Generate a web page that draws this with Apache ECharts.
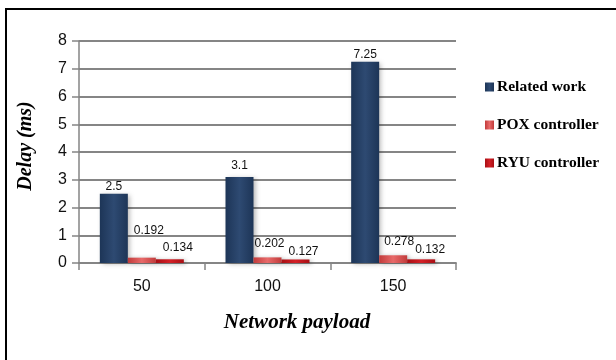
<!DOCTYPE html>
<html><head><meta charset="utf-8">
<script src="https://cdn.jsdelivr.net/npm/echarts@6/dist/echarts.min.js"></script>
<style>html,body{margin:0;padding:0;background:#fff}#c{width:616px;height:360px}</style>
</head><body><div id="c"></div>
<script>
const categories = ['50', '100', '150'];
const relatedWork = [2.5, 3.1, 7.25];
const poxController = [0.192, 0.202, 0.278];
const ryuController = [0.134, 0.127, 0.132];
const seriesNames = ['Related work', 'POX controller', 'RYU controller'];
const yTicks = [0, 1, 2, 3, 4, 5, 6, 7, 8];
const xTitle = 'Network payload';
const yTitle = 'Delay (ms)';

const poxOffsets = [[7, -20], [2, -7], [6, -7]];
const ryuOffsets = [[8, -5], [8, -1], [9, -3]];
const relOffsets = [[0, 0], [0, -4], [0, 0]];

function grad(c1, c2, c3) {
  return new echarts.graphic.LinearGradient(0, 0, 1, 0, [
    {offset: 0, color: c1}, {offset: 0.5, color: c2}, {offset: 1, color: c3}]);
}
const lblFont = {fontFamily: 'Liberation Sans', fontSize: 12, color: '#111'};
function mk(vals, offs) {
  return vals.map((v, i) => ({value: v, label: {offset: offs[i]}}));
}
const titleFont = {fontFamily: 'Liberation Serif', fontWeight: 'bold', fontStyle: 'italic', fill: '#000'};
const chart = echarts.init(document.getElementById('c'));
chart.setOption({
  animation: false,
  backgroundColor: '#fff',
  grid: {left: 79, right: 160, top: 41, bottom: 97},
  graphic: [
    {type: 'rect', shape: {x: 6, y: 9, width: 620, height: 360},
      style: {fill: 'none', stroke: '#000', lineWidth: 2}, silent: true},
    {type: 'text', x: 297, y: 323, style: Object.assign({text: xTitle, fontSize: 21, align: 'center', verticalAlign: 'middle'}, titleFont)},
    {type: 'text', x: 26, y: 146, rotation: Math.PI / 2, style: Object.assign({text: yTitle, fontSize: 20, align: 'center', verticalAlign: 'middle'}, titleFont)}
  ],
  legend: {
    orient: 'vertical', left: 480, top: 74, itemGap: 22, itemWidth: 9, itemHeight: 9,
    icon: 'rect', data: seriesNames,
    textStyle: {fontFamily: 'Liberation Serif', fontWeight: 'bold', fontSize: 15.5, color: '#000', padding: [0, 0, 0, -2]}
  },
  xAxis: {
    type: 'category', data: categories,
    axisLine: {lineStyle: {color: '#858585', width: 1.8}},
    axisTick: {show: true, length: 7, lineStyle: {color: '#858585', width: 1.5}},
    axisLabel: {fontFamily: 'Liberation Sans', fontSize: 16, color: '#111', margin: 16}
  },
  yAxis: {
    type: 'value', min: 0, max: 8, interval: 1,
    axisLine: {show: true, lineStyle: {color: '#858585', width: 1.5}},
    axisTick: {show: true, length: 7, inside: false, lineStyle: {color: '#858585', width: 1.5}},
    axisLabel: {fontFamily: 'Liberation Sans', fontSize: 16, color: '#111', margin: 12,
      formatter: v => yTicks.includes(v) ? String(v) : ''},
    splitLine: {lineStyle: {color: '#858585', width: 1.8}}
  },
  series: [
    {name: seriesNames[0], type: 'bar', data: mk(relatedWork, relOffsets), barWidth: 28, barGap: '0%',
      itemStyle: {color: grad('#1d3557', '#2e4a72', '#1d3557'), shadowColor: 'rgba(0,0,0,0.3)', shadowBlur: 5, shadowOffsetX: 2, shadowOffsetY: 1},
      label: Object.assign({show: true, position: 'top', distance: 1}, lblFont)},
    {name: seriesNames[1], type: 'bar', data: mk(poxController, poxOffsets), barWidth: 28, barGap: '0%',
      itemStyle: {color: grad('#c23b3b', '#e86a6a', '#c23b3b'), shadowColor: 'rgba(0,0,0,0.3)', shadowBlur: 4, shadowOffsetX: 2, shadowOffsetY: 1},
      label: Object.assign({show: true, position: 'top', distance: 1}, lblFont)},
    {name: seriesNames[2], type: 'bar', data: mk(ryuController, ryuOffsets), barWidth: 28, barGap: '0%',
      itemStyle: {color: grad('#a80f14', '#d42027', '#a80f14'), shadowColor: 'rgba(0,0,0,0.3)', shadowBlur: 4, shadowOffsetX: 2, shadowOffsetY: 1},
      label: Object.assign({show: true, position: 'top', distance: 1}, lblFont)}
  ]
});
</script></body></html>
